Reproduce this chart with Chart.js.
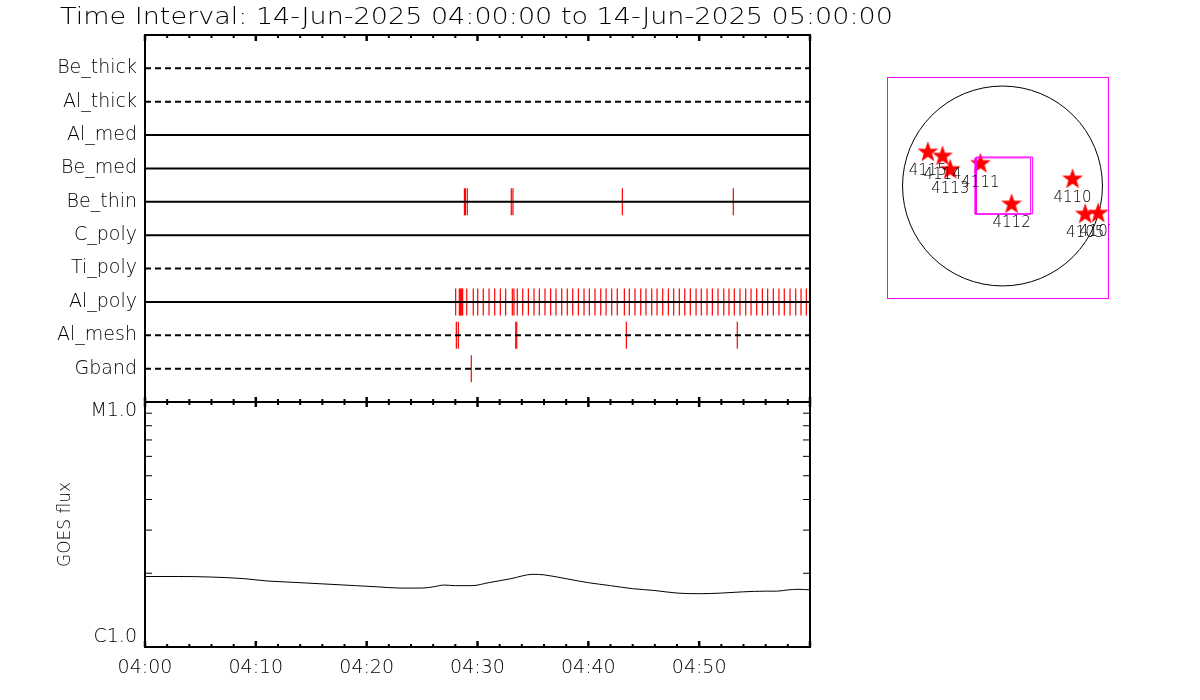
<!DOCTYPE html>
<html>
<head>
<meta charset="utf-8">
<script src="https://cdn.jsdelivr.net/npm/chart.js@4.4.0/dist/chart.umd.min.js"></script>
<style>
  html, body { margin: 0; padding: 0; background: #fff; }
  #wrap { position: relative; width: 1200px; height: 700px; }
  #main { position: absolute; left: 0; top: 0; }
  #map { position: absolute; left: 886px; top: 76px; }
</style>
</head>
<body>
<div id="wrap">
  <canvas id="main" width="1200" height="700"></canvas>
  <canvas id="map" width="224" height="224"></canvas>
</div>
<script>
const titleText = "Time Interval: 14-Jun-2025 04:00:00 to 14-Jun-2025 05:00:00";

// detector rows, top to bottom
const rowNames = ["Be_thick", "Al_thick", "Al_med", "Be_med", "Be_thin", "C_poly", "Ti_poly", "Al_poly", "Al_mesh", "Gband"];
const rowDashed = [true, true, false, false, false, false, true, false, true, true];

// exposure times, minutes after 04:00
const evBeThin = [28.82, 28.91, 29.08, 33.05, 33.2, 43.07, 53.08];
const evAlPoly = [28.03, 28.36, 28.45, 28.51, 28.58, 28.66, 29.03, 29.62, 30.02, 30.52, 31.04, 31.55, 32.06, 32.54,
  33.14, 33.29, 33.59, 34.08, 34.59, 35.1, 35.58, 36.09, 36.6, 37.08, 37.6, 38.1, 38.59, 39.1, 39.61, 40.09,
  40.6, 41.12, 41.6, 42.11, 42.61, 43.25, 43.7, 44.21, 44.73, 45.2, 45.72, 46.2, 46.71, 47.22, 47.7, 48.21,
  48.7, 49.2, 49.72, 50.19, 50.71, 51.19, 51.7, 52.22, 52.69, 53.17, 53.68, 54.2, 54.68, 55.19, 55.7, 56.18,
  56.69, 57.2, 57.68, 58.2, 58.71, 59.19, 59.67];
const evAlMesh = [28.09, 28.27, 33.45, 33.54, 43.43, 53.44];
const evGband = [29.44];
const rowEvents = [[], [], [], [], evBeThin, [], [], evAlPoly, evAlMesh, evGband];

// GOES 1-8 A flux
const goesMin = [0, 3, 6, 9, 11, 13, 16, 19, 21, 23, 25, 26, 27, 28, 29.5, 31, 33, 35, 36, 38, 40, 42, 44, 46, 48, 50, 52, 54, 56, 57, 58, 59, 60];
const goesFlux = [1.94e-6, 1.94e-6, 1.93e-6, 1.9e-6, 1.86e-6, 1.84e-6, 1.81e-6, 1.78e-6, 1.76e-6, 1.74e-6, 1.74e-6, 1.76e-6,
  1.79e-6, 1.78e-6, 1.78e-6, 1.83e-6, 1.9e-6, 1.98e-6, 1.97e-6, 1.9e-6, 1.83e-6, 1.78e-6, 1.73e-6, 1.7e-6, 1.66e-6,
  1.65e-6, 1.66e-6, 1.68e-6, 1.69e-6, 1.69e-6, 1.71e-6, 1.72e-6, 1.71e-6];
const goesTicks = [1e-6, 1e-5];
const goesTickLabels = ["C1.0", "M1.0"];

const xTicks = [0, 10, 20, 30, 40, 50];
const xTickLabels = ["04:00", "04:10", "04:20", "04:30", "04:40", "04:50"];

// active regions on the disk (arcsec)
const arNums = ["4115", "4114", "4113", "4111", "4112", "4110", "4105", "4107"];
const arX = [-706, -567, -494, -209, 86, 662, 782, 905];
const arY = [328, 290, 163, 220, -163, 74, -258, -249];
const boxX = [-258, 266];
const boxY = [-268, 266];
const box2X = [-246, 285];
const box2Y = [-262, 274];
const sunRadius = 945;

Chart.defaults.font.family = '"DejaVu Sans"';
Chart.defaults.font.weight = 200;
Chart.defaults.color = "#000";

const datasets = [];
rowNames.forEach((name, i) => {
  datasets.push({
    type: "line",
    data: [{ x: 0, y: i + 1 }, { x: 60, y: i + 1 }],
    yAxisID: "yEv",
    borderColor: "#000",
    borderWidth: 2,
    borderDash: rowDashed[i] ? [6, 4] : [],
    pointRadius: 0
  });
});
rowEvents.forEach((evs, i) => {
  datasets.push({
    type: "scatter",
    data: evs.map(t => ({ x: t, y: i + 1 })),
    yAxisID: "yEv",
    pointStyle: "line",
    rotation: 90,
    radius: 13.5,
    borderColor: "#ff0000",
    backgroundColor: "#ff0000",
    borderWidth: 1.2
  });
});
datasets.push({
  type: "line",
  data: goesMin.map((t, i) => ({ x: t, y: goesFlux[i] })),
  yAxisID: "yGoes",
  borderColor: "#000",
  borderWidth: 1,
  pointRadius: 0,
  cubicInterpolationMode: "monotone"
});

const frameTicks = {
  id: "frameTicks",
  afterDraw(chart) {
    const { ctx, chartArea: a, scales } = chart;
    const mid = scales.yEv.bottom;
    const seg = (x1, y1, x2, y2) => { ctx.beginPath(); ctx.moveTo(x1, y1); ctx.lineTo(x2, y2); ctx.stroke(); };
    ctx.save();
    ctx.strokeStyle = "#000";
    ctx.lineWidth = 2;
    ctx.strokeRect(a.left, a.top, a.right - a.left, a.bottom - a.top);
    seg(a.left, mid, a.right, mid);
    for (let m = 0; m <= 60; m += 2) {
      const px = scales.x.getPixelForValue(m);
      const major = m % 10 === 0;
      ctx.lineWidth = major ? 2.5 : 2;
      seg(px, a.top, px, a.top + (major ? 6 : 3));
      seg(px, mid - (major ? 5 : 3), px, mid + (major ? 5 : 3));
      seg(px, a.bottom, px, a.bottom - (major ? 6 : 3));
    }
    ctx.lineWidth = 1;
    for (let k = 2; k <= 9; k++) {
      const py = scales.yGoes.getPixelForValue(k * 1e-6);
      seg(a.left, py, a.left + 7, py);
      seg(a.right, py, a.right - 7, py);
    }
    // title
    ctx.fillStyle = "#000";
    ctx.font = '200 23px "DejaVu Sans"';
    ctx.textBaseline = "alphabetic";
    const w = ctx.measureText(titleText).width;
    ctx.translate(60, 24);
    ctx.scale(833 / w, 1);
    ctx.fillText(titleText, 0, 0);
    ctx.restore();
  }
};

new Chart(document.getElementById("main"), {
  data: { datasets },
  options: {
    responsive: false,
    animation: false,
    events: [],
    layout: { padding: { top: 35, right: 390, left: 0, bottom: 0 } },
    plugins: { legend: { display: false }, tooltip: { enabled: false } },
    scales: {
      x: {
        type: "linear",
        min: 0,
        max: 60,
        afterBuildTicks: s => { s.ticks = xTicks.map(v => ({ value: v })); },
        afterFit: s => { s.height = 53; },
        ticks: { callback: (v, i) => xTickLabels[i], font: { size: 19 }, padding: 10, maxRotation: 0 },
        grid: { display: false, drawTicks: false },
        border: { display: false }
      },
      yGoes: {
        type: "logarithmic",
        position: "left",
        stack: "panels",
        stackWeight: 245,
        min: 1e-6,
        max: 1e-5,
        afterBuildTicks: s => { s.ticks = goesTicks.map(v => ({ value: v })); },
        afterFit: s => { s.width = 145; },
        ticks: {
          callback: (v, i) => (i === 1 ? ["", goesTickLabels[i]] : [goesTickLabels[i], ""]),
          font: { size: 19, lineHeight: 1.0 },
          padding: 8
        },
        title: { display: true, text: "GOES flux", font: { size: 17 }, padding: { top: 55 } },
        grid: { display: false, drawTicks: false },
        border: { display: false }
      },
      yEv: {
        type: "linear",
        position: "left",
        stack: "panels",
        stackWeight: 367,
        min: 0,
        max: 11,
        reverse: true,
        afterBuildTicks: s => { s.ticks = rowNames.map((n, i) => ({ value: i + 1 })); },
        afterFit: s => { s.width = 145; },
        ticks: { callback: v => rowNames[v - 1], font: { size: 19 }, padding: 8, autoSkip: false },
        grid: { display: false, drawTicks: false },
        border: { display: false }
      }
    }
  },
  plugins: [frameTicks]
});

// sun map
const starImg = document.createElement("canvas");
starImg.width = 24;
starImg.height = 24;
const sctx = starImg.getContext("2d");
sctx.fillStyle = "#ff0000";
sctx.beginPath();
for (let i = 0; i < 10; i++) {
  const r = i % 2 ? 4.4 : 11;
  const ang = -Math.PI / 2 + i * Math.PI / 5;
  sctx.lineTo(12 + r * Math.cos(ang), 13 + r * Math.sin(ang));
}
sctx.closePath();
sctx.fill();

const rectPts = (bx, by) => [
  { x: bx[0], y: by[0] }, { x: bx[1], y: by[0] }, { x: bx[1], y: by[1] }, { x: bx[0], y: by[1] }, { x: bx[0], y: by[0] }
];

const mapDeco = {
  id: "mapDeco",
  beforeDatasetsDraw(chart) {
    const { ctx, chartArea: a, scales } = chart;
    const cx = scales.x.getPixelForValue(0);
    const cy = scales.y.getPixelForValue(0);
    const r = scales.x.getPixelForValue(sunRadius) - cx;
    ctx.save();
    ctx.strokeStyle = "#ff00ff";
    ctx.lineWidth = 1;
    ctx.strokeRect(a.left + 0.5, a.top + 0.5, a.right - a.left - 1, a.bottom - a.top - 1);
    ctx.strokeStyle = "#000";
    ctx.beginPath();
    ctx.arc(cx, cy, r, 0, Math.PI * 2);
    ctx.stroke();
    ctx.restore();
  },
  afterDatasetsDraw(chart) {
    const { ctx } = chart;
    const meta = chart.getDatasetMeta(2);
    ctx.save();
    ctx.fillStyle = "#000";
    ctx.font = '200 15px "DejaVu Sans"';
    ctx.textAlign = "center";
    ctx.textBaseline = "middle";
    meta.data.forEach((pt, i) => ctx.fillText(arNums[i], pt.x, pt.y + 20));
    ctx.restore();
  }
};

new Chart(document.getElementById("map"), {
  type: "scatter",
  data: {
    datasets: [
      { type: "line", data: rectPts(boxX, boxY), borderColor: "#ff00ff", borderWidth: 1, pointRadius: 0 },
      { type: "line", data: rectPts(box2X, box2Y), borderColor: "#ff00ff", borderWidth: 1, pointRadius: 0 },
      { data: arX.map((x, i) => ({ x, y: arY[i] })), pointStyle: starImg }
    ]
  },
  options: {
    responsive: false,
    animation: false,
    events: [],
    layout: { padding: 1, autoPadding: false },
    plugins: { legend: { display: false }, tooltip: { enabled: false } },
    scales: {
      x: { type: "linear", min: -1092, max: 1007, display: false },
      y: { type: "linear", min: -1068, max: 1030, display: false }
    }
  },
  plugins: [mapDeco]
});
</script>
</body>
</html>
